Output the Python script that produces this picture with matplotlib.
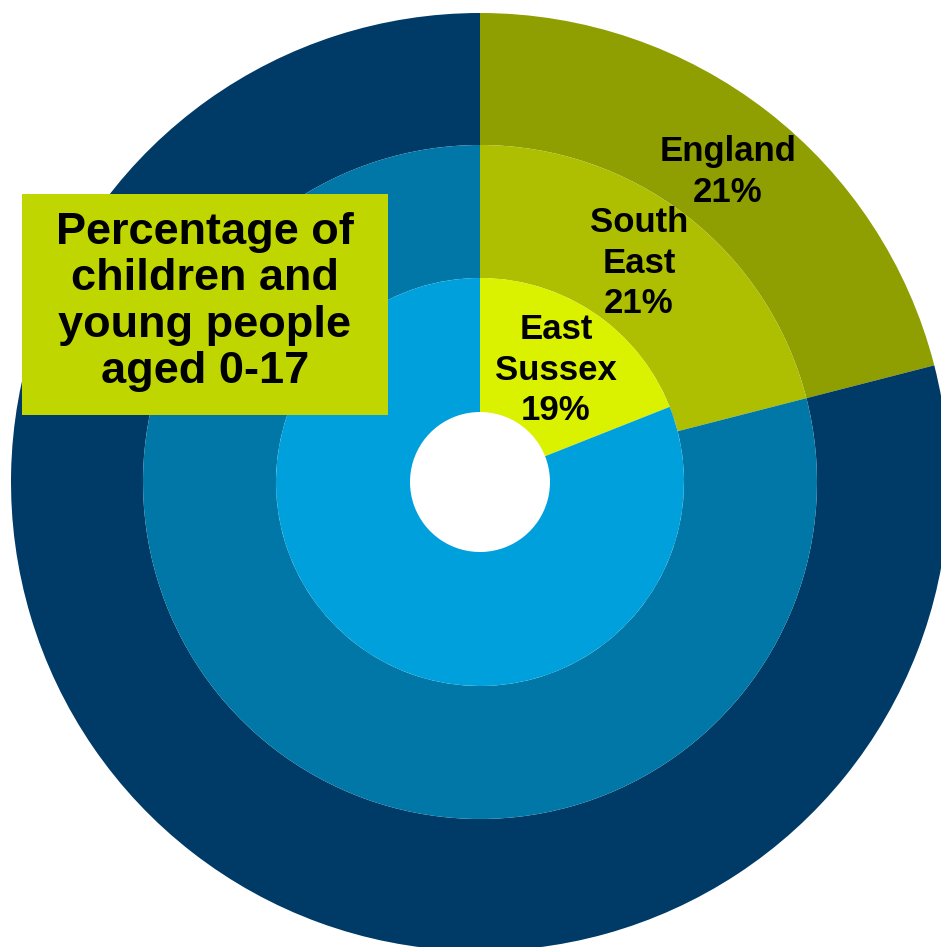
import matplotlib
matplotlib.use("Agg")
import matplotlib.pyplot as plt
from matplotlib.patches import Rectangle

plt.rcParams['font.family'] = ['Liberation Sans', 'DejaVu Sans']

areas = ["England", "South East", "East Sussex"]
shares = [21, 21, 19]  # percent aged 0-17
ring_labels = ["England\n21%", "South\nEast\n21%", "East\nSussex\n19%"]
hi_colors = ["#8F9E00", "#ADBF00", "#DAF200"]
rest_colors = ["#003A66", "#0077A6", "#00A0DC"]
title = "Percentage of\nchildren and\nyoung people\naged 0-17"

W, H = 941, 947
fig = plt.figure(figsize=(W / 100, H / 100), dpi=100)
ax = fig.add_axes([0, 0, 1, 1])

cx, cy = 480, H - 482
radii = [469, 337, 204]
widths = [132, 133, 134]

for share, hc, rc, r, w in zip(shares, hi_colors, rest_colors, radii, widths):
    ax.pie([share, 100 - share], colors=[hc, rc], radius=r, center=(cx, cy),
           startangle=90, counterclock=False,
           wedgeprops=dict(width=w, linewidth=0), frame=True)

ax.set_xlim(0, W)
ax.set_ylim(0, H)
ax.set_aspect('equal')
ax.axis('off')

label_pos = [(728, H - 172), (639, H - 263), (556, H - 370)]
for (x, y), t in zip(label_pos, ring_labels):
    ax.text(x, y, t, ha='center', va='center', fontsize=25, fontweight='bold',
            color='black', linespacing=1.3)

ax.add_patch(Rectangle((22, H - 415), 366, 221, facecolor='#BFD600', edgecolor='none', zorder=5))
ax.text(205, H - 302, title, ha='center', va='center', fontsize=32.5, fontweight='bold',
        color='black', linespacing=1.17, zorder=6)

fig.savefig("out.png", dpi=100)
